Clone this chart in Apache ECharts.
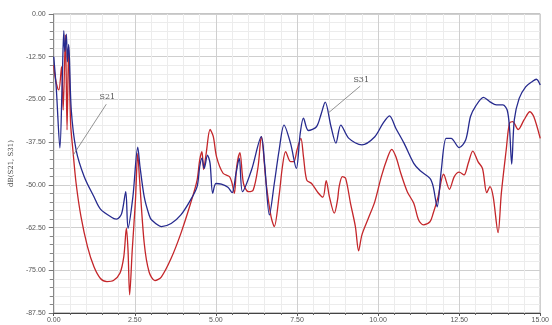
<!DOCTYPE html>
<html>
<head>
<meta charset="utf-8">
<script src="https://cdn.jsdelivr.net/npm/echarts@6/dist/echarts.min.js"></script>
<style>
  html, body { margin: 0; padding: 0; background: #ffffff; }
  #chart { width: 552px; height: 325px; }
</style>
</head>
<body>
<div id="chart"></div>
<script>
// Frequency axis (GHz) and magnitude axis (dB) ranges
const xTicks = [0, 2.5, 5, 7.5, 10, 12.5, 15];
const yTicks = [-87.5, -75, -62.5, -50, -37.5, -25, -12.5, 0];

// S21 transmission trace
const s21Freq = [0.00, 0.04, 0.12, 0.16, 0.24, 0.29, 0.36, 0.41, 0.46, 0.52, 0.59, 0.69, 0.84, 1.04, 1.24, 1.44, 1.64, 1.84, 2.04, 2.16,
  2.24, 2.29, 2.34, 2.42, 2.52, 2.59, 2.64, 2.79, 2.94, 3.12, 3.32, 3.62, 3.92, 4.22, 4.42, 4.50, 4.57, 4.62, 4.70, 4.82,
  4.92, 5.02, 5.22, 5.42, 5.50, 5.57, 5.64, 5.74, 5.85, 6.00, 6.15, 6.30, 6.40, 6.55, 6.70, 6.80, 6.95, 7.05, 7.15, 7.30,
  7.40, 7.50, 7.62, 7.70, 7.80, 7.95, 8.15, 8.30, 8.40, 8.50, 8.65, 8.75, 8.80, 8.90, 9.00, 9.15, 9.30, 9.40, 9.50, 9.70,
  9.90, 10.10, 10.30, 10.42, 10.55, 10.70, 10.90, 11.10, 11.25, 11.40, 11.60, 11.70, 11.85, 12.02, 12.20, 12.35, 12.50, 12.65, 12.78, 12.92,
  13.08, 13.22, 13.35, 13.45, 13.55, 13.70, 13.80, 13.95, 14.05, 14.15, 14.32, 14.50, 14.68, 14.80, 15.00];
const s21Db = [-15.0, -18.3, -21.7, -22.2, -15.4, -28.1, -6.1, -33.9, -9.6, -32.0, -39.8, -49.6, -59.3, -68.1, -74.0, -77.4, -78.3, -78.0, -75.9, -71.0,
  -62.7, -69.1, -82.2, -69.1, -54.4, -40.8, -47.6, -67.1, -75.5, -78.0, -76.9, -71.5, -64.2, -55.4, -48.6, -42.7, -40.3, -45.5, -40.8, -33.8,
  -35.9, -41.8, -46.6, -47.6, -49.6, -52.5, -44.7, -40.6, -49.6, -52.0, -51.5, -44.7, -35.9, -49.6, -59.3, -62.2, -53.0, -44.7, -40.3, -43.2,
  -43.2, -39.8, -36.4, -41.8, -48.6, -49.6, -52.3, -53.6, -48.8, -53.5, -58.3, -54.4, -50.5, -47.6, -48.1, -55.4, -62.2, -69.3, -64.7, -59.8,
  -54.9, -47.6, -41.8, -39.6, -41.8, -46.6, -52.0, -55.4, -60.3, -61.7, -60.8, -58.3, -53.5, -46.9, -51.3, -47.6, -46.3, -47.1, -43.7, -40.1,
  -43.2, -45.2, -52.3, -50.5, -53.5, -64.0, -52.5, -39.8, -32.0, -31.5, -33.8, -31.0, -28.6, -30.0, -36.4];

// S31 coupling trace
const s31Freq = [0.00, 0.08, 0.19, 0.26, 0.31, 0.34, 0.39, 0.42, 0.46, 0.54, 0.69, 0.94, 1.24, 1.44, 1.84, 1.94, 2.09, 2.22, 2.29, 2.44,
  2.59, 2.66, 2.79, 2.94, 3.02, 3.32, 3.62, 3.92, 4.22, 4.42, 4.50, 4.57, 4.64, 4.74, 4.82, 4.90, 5.00, 5.17, 5.37, 5.50,
  5.62, 5.72, 5.82, 6.10, 6.40, 6.50, 6.65, 6.80, 6.95, 7.10, 7.30, 7.48, 7.60, 7.70, 7.85, 8.10, 8.25, 8.37, 8.55, 8.70,
  8.85, 9.10, 9.50, 9.90, 10.15, 10.35, 10.55, 10.80, 11.10, 11.30, 11.60, 11.70, 11.82, 11.95, 12.10, 12.25, 12.50, 12.70, 12.85, 13.00,
  13.25, 13.45, 13.65, 13.85, 13.98, 14.05, 14.12, 14.20, 14.35, 14.55, 14.75, 14.88, 15.00];
const s31Db = [-12.5, -22.0, -39.2, -20.0, -4.9, -11.0, -5.9, -14.0, -8.9, -28.1, -39.8, -47.6, -53.5, -57.1, -59.8, -60.0, -58.5, -52.0, -62.7, -53.5,
  -39.0, -44.7, -53.5, -58.8, -60.3, -62.2, -61.3, -58.8, -54.4, -50.5, -44.7, -42.2, -45.2, -41.3, -43.7, -52.5, -49.6, -49.8, -50.7, -52.3,
  -46.6, -42.2, -52.0, -45.6, -35.9, -43.7, -58.8, -49.6, -39.8, -32.5, -37.8, -45.2, -34.9, -30.5, -34.1, -33.0, -29.1, -25.8, -33.0, -37.8,
  -32.5, -36.4, -38.3, -35.9, -32.0, -29.8, -33.5, -37.8, -43.7, -45.9, -48.1, -50.5, -56.4, -45.6, -36.4, -36.4, -39.1, -36.9, -30.0, -27.1,
  -24.4, -25.7, -26.6, -26.6, -28.1, -33.0, -43.9, -31.0, -24.7, -21.3, -19.8, -19.1, -20.8];

// Trace callouts: text anchor and leader line end points
const s21Callout = { text: 'S21', at: [1.65, -24.2], from: [1.62, -26.4], to: [0.60, -41.3] };
const s31Callout = { text: 'S31', at: [9.48, -19.3], from: [9.45, -21.1], to: [8.46, -29.0] };

const pairs = (xs, ys) => xs.map((x, i) => [x, ys[i]]);

const labelFont = { fontFamily: 'Liberation Sans', fontSize: 7, color: '#555' };

function callout(c) {
  return {
    markLine: {
      silent: true,
      symbol: 'none',
      animation: false,
      lineStyle: { color: '#777', width: 0.8, type: 'solid' },
      label: { show: false },
      data: [[{ coord: c.from }, { coord: c.to }]]
    },
    markPoint: {
      silent: true,
      animation: false,
      symbol: 'circle',
      symbolSize: 0,
      label: {
        show: true,
        position: 'inside',
        formatter: c.text,
        fontFamily: 'DejaVu Serif',
        fontSize: 8,
        color: '#555'
      },
      data: [{ coord: c.at }]
    }
  };
}

const chart = echarts.init(document.getElementById('chart'), null, { renderer: 'canvas' });

chart.setOption({
  animation: false,
  backgroundColor: '#ffffff',
  grid: {
    left: 46, right: 5, top: 14, bottom: 12,
    show: true, borderColor: '#8a8a8a', borderWidth: 1, backgroundColor: 'transparent'
  },
  xAxis: {
    type: 'value',
    min: xTicks[0],
    max: xTicks[xTicks.length - 1],
    interval: xTicks[1] - xTicks[0],
    axisLine: { show: true, onZero: false, lineStyle: { color: '#444', width: 1 } },
    axisTick: { show: true, length: 3, lineStyle: { color: '#555' } },
    minorTick: { show: true, splitNumber: 5, length: 2, lineStyle: { color: '#666' } },
    splitLine: { show: true, lineStyle: { color: '#cfcfcf', width: 1 } },
    minorSplitLine: { show: true, lineStyle: { color: '#ececec', width: 1 } },
    axisLabel: Object.assign({ margin: 4, formatter: v => v.toFixed(2) }, labelFont)
  },
  yAxis: {
    type: 'value',
    min: yTicks[0],
    max: yTicks[yTicks.length - 1],
    interval: yTicks[1] - yTicks[0],
    name: 'dB(S21, S31)',
    nameLocation: 'middle',
    nameGap: 33,
    nameRotate: 90,
    nameTextStyle: { fontFamily: 'DejaVu Serif', fontSize: 7, color: '#444' },
    axisLine: { show: true, onZero: false, lineStyle: { color: '#888', width: 1 } },
    axisTick: { show: true, length: 5, lineStyle: { color: '#777' } },
    minorTick: { show: true, splitNumber: 5, length: 4, lineStyle: { color: '#888' } },
    splitLine: { show: true, lineStyle: { color: '#cfcfcf', width: 1 } },
    minorSplitLine: { show: true, lineStyle: { color: '#ececec', width: 1 } },
    axisLabel: Object.assign({ margin: 8, formatter: v => v.toFixed(2) }, labelFont)
  },
  series: [
    Object.assign({
      name: 'S21',
      type: 'line',
      data: pairs(s21Freq, s21Db),
      showSymbol: false,
      smooth: 0.3,
      lineStyle: { color: '#c4262a', width: 1.3 },
      itemStyle: { color: '#c4262a' },
      z: 3
    }, callout(s21Callout)),
    Object.assign({
      name: 'S31',
      type: 'line',
      data: pairs(s31Freq, s31Db),
      showSymbol: false,
      smooth: 0.3,
      lineStyle: { color: '#262a8e', width: 1.3 },
      itemStyle: { color: '#262a8e' },
      z: 4
    }, callout(s31Callout))
  ]
});
</script>
</body>
</html>
